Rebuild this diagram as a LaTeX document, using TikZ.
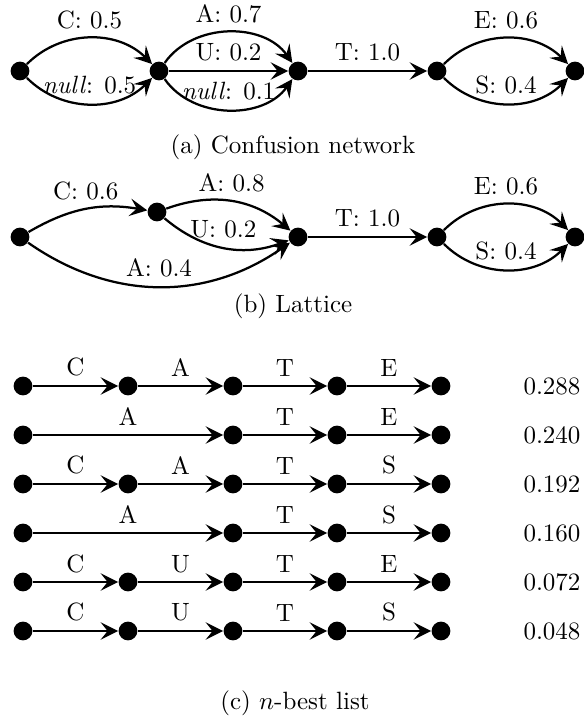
\documentclass[tikz,border=0pt]{standalone}
\usetikzlibrary{arrows.meta}

\begin{document}
\begin{tikzpicture}[x=0.4pt, y=0.4pt,
    dot/.style={circle, fill=black, inner sep=0pt, minimum size=7.5pt},
    arc/.style={line width=0.9pt, -{Stealth[length=7pt, width=7pt, inset=2.8pt]}}]
  \useasboundingbox (0,0) rectangle (584,-728);

  % (a) Confusion network
  \foreach \i/\x in {0/20,1/159,2/298,3/437,4/575}
    \node[dot] (a\i) at (\x,-71) {};
  \draw[arc] (a0) to[bend left=45] node[above] {C: 0.5} (a1);
  \draw[arc] (a0) to[bend right=45] node[above] {\textit{null}: 0.5} (a1);
  \draw[arc] (a1) to[bend left=55] node[above] {A: 0.7} (a2);
  \draw[arc] (a1) -- node[above] {U: 0.2} (a2);
  \draw[arc] (a1) to[bend right=55] node[above] {\textit{null}: 0.1} (a2);
  \draw[arc] (a2) -- node[above] {T: 1.0} (a3);
  \draw[arc] (a3) to[bend left=45] node[above] {E: 0.6} (a4);
  \draw[arc] (a3) to[bend right=45] node[above] {S: 0.4} (a4);
  \node (capa) at (293,-147) {(a) Confusion network};

  % (b) Lattice
  \node[dot] (b0) at (20,-237) {};
  \node[dot] (b1) at (157,-212) {};
  \foreach \i/\x in {2/298,3/437,4/575}
    \node[dot] (b\i) at (\x,-237) {};
  \draw[arc] (b0) to[bend left=20] node[above] {C: 0.6} (b1);
  \draw[arc] (b0) to[bend right=35] node[above] {A: 0.4} (b2);
  \draw[arc] (b1) to[bend left=30] node[above] {A: 0.8} (b2);
  \draw[arc] (b1) to[bend right=30] node[above] {U: 0.2} (b2);
  \draw[arc] (b2) -- node[above] {T: 1.0} (b3);
  \draw[arc] (b3) to[bend left=45] node[above] {E: 0.6} (b4);
  \draw[arc] (b3) to[bend right=45] node[above] {S: 0.4} (b4);
  \node (capb) at (293,-306) {(b) Lattice};

  % (c) n-best list
  \foreach \r/\a/\b/\d/\p in {1/C/A/E/0.288, 3/C/A/S/0.192, 5/C/U/E/0.072, 6/C/U/S/0.048} {
    \foreach \i/\x in {0/23,1/128,2/233,3/337,4/441}
      \node[dot] (r\r-\i) at (\x,{-386-49*(\r-1)}) {};
    \draw[arc] (r\r-0) -- node[above] {\a} (r\r-1);
    \draw[arc] (r\r-1) -- node[above] {\b} (r\r-2);
    \draw[arc] (r\r-2) -- node[above] {T} (r\r-3);
    \draw[arc] (r\r-3) -- node[above] {\d} (r\r-4);
    \node (p\r) at (552,{-386-49*(\r-1)}) {\p};
  }
  \foreach \r/\d/\p in {2/E/0.240, 4/S/0.160} {
    \foreach \i/\x in {0/23,2/233,3/337,4/441}
      \node[dot] (r\r-\i) at (\x,{-386-49*(\r-1)}) {};
    \draw[arc] (r\r-0) -- node[above] {A} (r\r-2);
    \draw[arc] (r\r-2) -- node[above] {T} (r\r-3);
    \draw[arc] (r\r-3) -- node[above] {\d} (r\r-4);
    \node (p\r) at (552,{-386-49*(\r-1)}) {\p};
  }
  \node (capc) at (295,-703) {(c) $n$-best list};
\end{tikzpicture}
\end{document}
